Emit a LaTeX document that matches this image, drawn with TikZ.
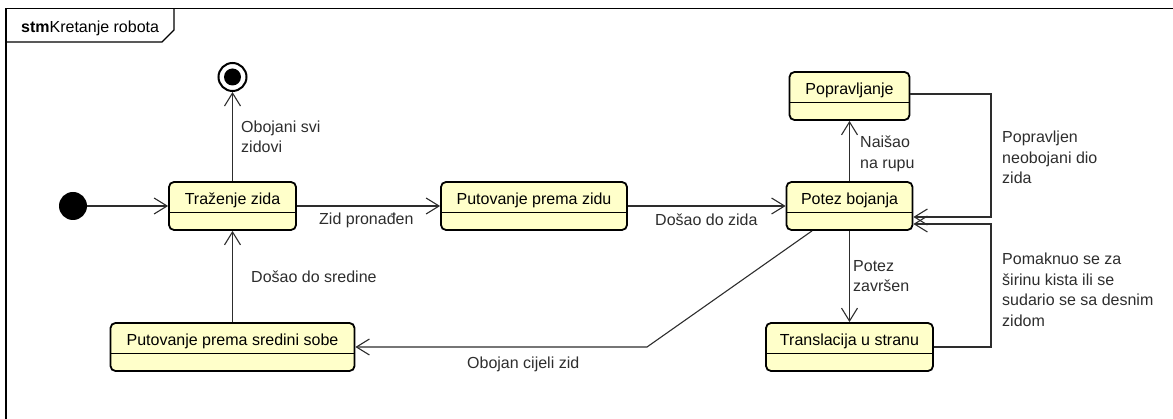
\documentclass[tikz,border=0pt]{standalone}
\usepackage{fontspec}
\setmainfont{Liberation Sans}
\usetikzlibrary{arrows.meta}
\definecolor{stfill}{RGB}{255,255,202}
\definecolor{ln}{RGB}{45,45,45}

\begin{document}
\begin{tikzpicture}[x=1pt,y=-1pt,
    font=\fontsize{16}{20.5}\selectfont,
    stanje/.style={draw, fill=stfill, line width=1.8pt, rounded corners=5pt,
      inner xsep=0pt, inner ysep=0pt, text height=23pt, text depth=25pt,
      path picture={\draw[line width=1.1pt] ([yshift=-6.5pt]path picture bounding box.west)
        -- ([yshift=-6.5pt]path picture bounding box.east);}},
    pocetak/.style={circle, fill=black, minimum size=28pt, inner sep=0pt},
    kraj/.style={circle, draw, line width=2pt, fill=white, minimum size=28pt, inner sep=0pt,
      path picture={\fill[black] (path picture bounding box.center) circle (8.5pt);}},
    tr/.style={draw=ln, line width=1.1pt, -{Straight Barb[length=13pt,width=16pt]}},
    opis/.style={anchor=north west, inner sep=0pt, align=left, text=ln}]
  \useasboundingbox (0,0) rectangle (1173,419);
  % okvir dijagrama
  \draw[line width=1.3pt] (6,419) -- (6,8.5) -- (1173,8.5);
  \draw[line width=1.2pt] (6,42) -- (162,42) -- (174,30) -- (174,8.5);
  \node[anchor=base west, inner sep=0pt] (naslov) at (21,33) {\textbf{stm}Kretanje robota};
  % stanja
  \draw
    (73,206) node[pocetak] (init){}
    (232.5,77) node[kraj] (final){}
    (232.5,206) node[stanje, minimum width=127pt] (trazenje){Traženje zida}
    (534,206) node[stanje, minimum width=186pt] (putZid){Putovanje prema zidu}
    (849.5,206) node[stanje, minimum width=126pt] (potez){Potez bojanja}
    (849.5,96) node[stanje, minimum width=120pt] (poprav){Popravljanje}
    (849.5,347) node[stanje, minimum width=167pt] (transl){Translacija u stranu}
    (232.5,347) node[stanje, minimum width=244pt] (putSred){Putovanje prema sredini sobe};
  \coordinate (desno) at (991,0);
  \coordinate (lom) at (647,347);
  % prijelazi
  \begin{scope}[tr]
    \draw (init) to (trazenje);
    \draw (trazenje) to (final);
    \draw (trazenje) to (putZid);
    \draw (putZid) to (potez);
    \draw (potez) to (poprav);
    \draw ([yshift=2pt]poprav.east) -| ([yshift=-11pt]desno |- potez.east) -- ([yshift=-11pt]potez.east);
    \draw (potez) to (transl);
    \draw (transl.east) -| ([yshift=-18pt]desno |- potez.east) -- ([yshift=-18pt]potez.east);
    \draw ([xshift=-37.5pt]potez.south) -- (lom) -- (putSred.east);
    \draw (putSred) to (trazenje);
  \end{scope}
  % oznake prijelaza
  \node[opis] (oObojani) at (241,120.5) {Obojani svi\\zidovi};
  \node[opis] (oZid) at (319,213) {Zid pronađen};
  \node[opis] (oDosaoZid) at (655,214) {Došao do zida};
  \node[opis] (oNaisao) at (860,136) {Naišao\\na rupu};
  \node[opis] (oPopravljen) at (1002,131) {Popravljen\\neobojani dio\\zida};
  \node[opis] (oPotez) at (853,260) {Potez\\završen};
  \node[opis] (oPomaknuo) at (1002,253) {Pomaknuo se za\\širinu kista ili se\\sudario se sa desnim\\zidom};
  \node[opis] (oObojan) at (467,357) {Obojan cijeli zid};
  \node[opis] (oSredina) at (251,270.5) {Došao do sredine};
\end{tikzpicture}
\end{document}
